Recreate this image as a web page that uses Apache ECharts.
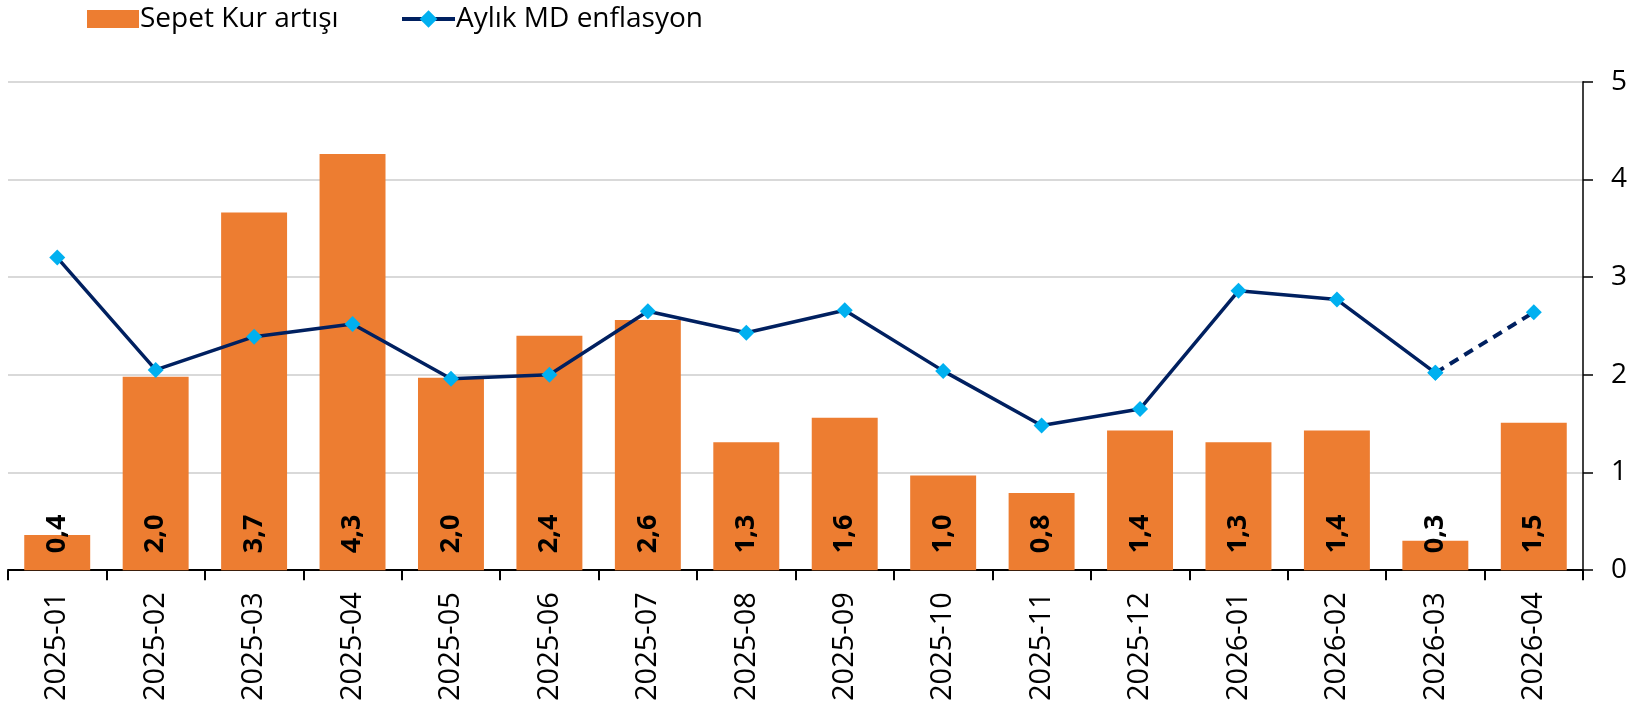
<!DOCTYPE html>
<html>
<head>
<meta charset="utf-8">
<script src="https://cdn.jsdelivr.net/npm/echarts@6/dist/echarts.min.js"></script>
<style>
  html, body { margin: 0; padding: 0; background: #fff; }
  #chrt_kur { width: 1649px; height: 704px; }
</style>
</head>
<body>
<div id="chrt_kur"></div>
<script>
var categories = ['2025-01', '2025-02', '2025-03', '2025-04', '2025-05', '2025-06', '2025-07', '2025-08',
                  '2025-09', '2025-10', '2025-11', '2025-12', '2026-01', '2026-02', '2026-03', '2026-04']
// Sepet Kur artışı (bars)
var sepetKur = [0.36, 1.98, 3.66, 4.26, 1.97, 2.40, 2.56, 1.31, 1.56, 0.97, 0.79, 1.43, 1.31, 1.43, 0.30, 1.51]
// Aylık MD enflasyon (line), last segment dashed
var mdEnflasyon = [3.20, 2.05, 2.39, 2.52, 1.96, 2.00, 2.65, 2.43, 2.66, 2.04, 1.48, 1.65, 2.86, 2.77, 2.02, 2.64]
var yTicks = [0, 1, 2, 3, 4, 5]

var FONT = 'Open Sans'
var lastSolid = mdEnflasyon.length - 2 // dashed from here on

var solidLine = mdEnflasyon.map(function (v, i) { return i <= lastSolid ? v : null })
var dashedLine = mdEnflasyon.map(function (v, i) { return i >= lastSolid ? v : null })

var legendText = { fontFamily: FONT, fontSize: 28, color: '#000', padding: [0, 0, 0, -4] }

var option = {
    animation: false,
    tooltip: { show: false },
    // two legends so the bar box and the line icon can have their own size
    legend: [
        {
            left: 82, top: 0,
            itemWidth: 52, itemHeight: 18,
            textStyle: legendText,
            data: [{ name: 'Sepet Kur artışı', icon: 'rect' }]
        },
        {
            left: 395, top: 0,
            itemWidth: 53, itemHeight: 22,
            textStyle: legendText,
            data: [{ name: 'Aylık MD enflasyon', lineStyle: { width: 4 } }]
        }
    ],
    grid: { left: 8, right: 66, top: 81.7, bottom: 131.7, containLabel: false },
    xAxis: {
        type: 'category',
        data: categories,
        boundaryGap: true,
        axisLine: { lineStyle: { color: '#000', width: 2 } },
        axisTick: { show: true, length: 10, interval: 0, lineStyle: { color: '#000', width: 2 } },
        axisLabel: { rotate: 90, interval: 0, margin: 22, fontFamily: FONT, fontSize: 29, color: '#000' },
        splitLine: { show: false }
    },
    yAxis: {
        type: 'value',
        position: 'right',
        min: yTicks[0], max: yTicks[yTicks.length - 1], interval: 1,
        axisLine: { show: true, lineStyle: { color: '#000', width: 1.5 } },
        axisTick: { show: true, length: 10, lineStyle: { color: '#000', width: 1.5 } },
        axisLabel: { margin: 28, fontFamily: FONT, fontSize: 28, color: '#000' },
        splitLine: { lineStyle: { color: '#d9d9d9', width: 2 } }
    },
    series: [
        {
            name: 'Sepet Kur artışı',
            type: 'bar',
            data: sepetKur,
            barWidth: '67%',
            itemStyle: { color: '#ED7D31' },
            label: {
                show: true,
                position: 'insideBottom',
                rotate: 90,
                align: 'left',
                verticalAlign: 'middle',
                distance: 17,
                fontFamily: FONT, fontSize: 27, fontWeight: 'bold', color: '#000',
                formatter: function (p) { return p.value.toFixed(1).replace('.', ',') }
            },
            z: 2
        },
        {
            name: 'Aylık MD enflasyon',
            type: 'line',
            data: solidLine,
            symbol: 'diamond', symbolSize: 16,
            itemStyle: { color: '#00B0F0' },
            lineStyle: { color: '#002060', width: 3.5 },
            z: 3
        },
        {
            name: 'Aylık MD enflasyon',
            type: 'line',
            data: dashedLine,
            symbol: 'diamond', symbolSize: 16,
            itemStyle: { color: '#00B0F0' },
            lineStyle: { color: '#002060', width: 4, type: [10, 7] },
            z: 3
        }
    ]
}

var chart = echarts.init(document.getElementById('chrt_kur'))
chart.setOption(option)
</script>
</body>
</html>
